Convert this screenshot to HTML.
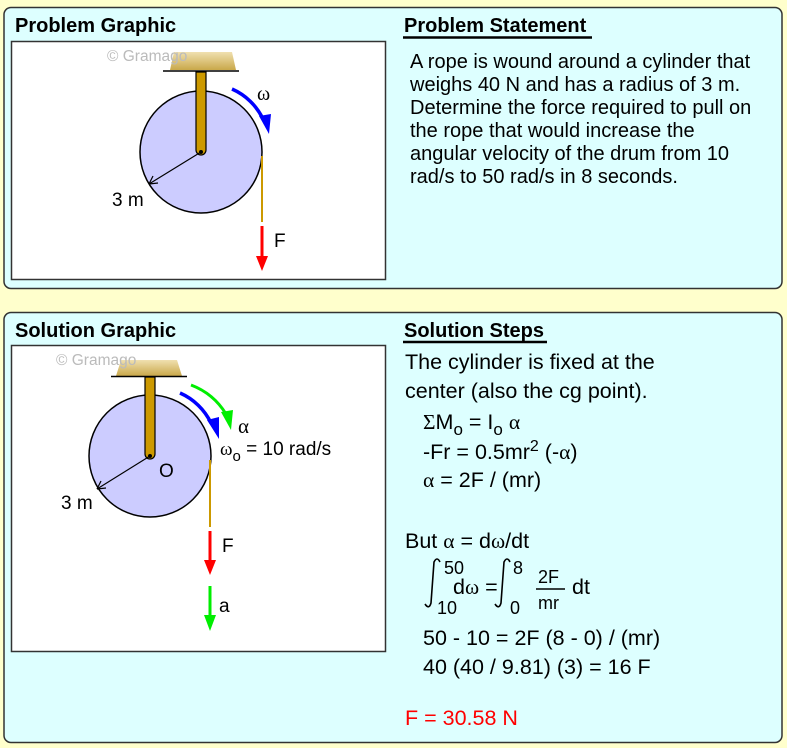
<!DOCTYPE html>
<html><head><meta charset="utf-8"><style>
html,body{margin:0;padding:0;background:#ffffcc;}
svg{display:block;font-family:"Liberation Sans",Arial,sans-serif;}
</style></head><body>
<svg width="787" height="748" viewBox="0 0 787 748" xmlns="http://www.w3.org/2000/svg">
<defs>
<linearGradient id="g" x1="0" y1="0" x2="0" y2="1"><stop offset="0" stop-color="#f0e0b0"/><stop offset="1" stop-color="#c9a84a"/></linearGradient>
</defs>
<rect x="0" y="0" width="787" height="748" fill="#ffffcc"/>
<rect x="4" y="7.5" width="778" height="281" rx="7" fill="#ddffff" stroke="#333" stroke-width="1.5"/>
<rect x="4" y="312.5" width="778" height="430" rx="7" fill="#ddffff" stroke="#333" stroke-width="1.5"/>
<rect x="11.5" y="41.5" width="374" height="238" fill="#fff" stroke="#333" stroke-width="1.5"/>
<rect x="11.5" y="345.5" width="374" height="306" fill="#fff" stroke="#333" stroke-width="1.5"/>
<g font-weight="bold" font-size="20" fill="#000">
<text x="15" y="32">Problem Graphic</text>
<text x="15" y="337">Solution Graphic</text>
<text x="404" y="32">Problem Statement</text>
<text x="404" y="337">Solution Steps</text>
</g>
<line x1="403" y1="37.5" x2="592" y2="37.5" stroke="#000" stroke-width="2.5"/>
<line x1="403" y1="342" x2="547" y2="342" stroke="#000" stroke-width="2.5"/>

<!-- top drawing -->
<polygon points="174,52 232,52 236,70 170,70" fill="url(#g)"/>
<text x="107" y="61" font-size="15.5" fill="#bbb">© Gramago</text>
<line x1="163" y1="71" x2="239" y2="71" stroke="#000" stroke-width="1.5"/>
<circle cx="201" cy="152" r="61" fill="#ccccff" stroke="#000" stroke-width="1.5"/>
<path d="M196,72 L196,150 A5,5 0 0 0 206,150 L206,72 Z" fill="#cc9900" stroke="#000" stroke-width="1.2"/>
<circle cx="201" cy="152" r="2" fill="#000"/>
<line x1="201" y1="152" x2="149" y2="184" stroke="#000" stroke-width="1.2"/>
<path d="M149,184 l9,-1 M149,184 l4,-8" stroke="#000" stroke-width="1.2"/>
<text x="112" y="206" font-size="19">3 m</text>
<line x1="262" y1="156" x2="262" y2="222" stroke="#cc9900" stroke-width="2"/>
<line x1="262" y1="226" x2="262" y2="258" stroke="#ff0000" stroke-width="3"/>
<polygon points="256,256 268,256 262,271" fill="#ff0000"/>
<text x="274" y="247" font-size="19">F</text>
<path d="M232,89 A62,62 0 0 1 263,119" fill="none" stroke="#0000ff" stroke-width="3.5"/>
<polygon points="259,116 271,114 269,134" fill="#0000ff"/>
<text x="257" y="100" font-size="20" font-family="Liberation Serif,serif">ω</text>

<!-- bottom drawing -->
<polygon points="121,360 177,360 182,376 116,376" fill="url(#g)"/>
<text x="56" y="365" font-size="15.5" fill="#bbb">© Gramago</text>
<line x1="111" y1="376.5" x2="187" y2="376.5" stroke="#000" stroke-width="1.5"/>
<circle cx="150" cy="456" r="61" fill="#ccccff" stroke="#000" stroke-width="1.5"/>
<path d="M145,377 L145,454 A5,5 0 0 0 155,454 L155,377 Z" fill="#cc9900" stroke="#000" stroke-width="1.2"/>
<circle cx="150" cy="456" r="2" fill="#000"/>
<line x1="150" y1="456" x2="97" y2="489" stroke="#000" stroke-width="1.2"/>
<path d="M97,489 l9,-1 M97,489 l4,-8" stroke="#000" stroke-width="1.2"/>
<text x="61" y="509" font-size="19">3 m</text>
<text x="159" y="477" font-size="19">O</text>
<line x1="210" y1="460" x2="210" y2="527" stroke="#cc9900" stroke-width="2"/>
<line x1="210" y1="531" x2="210" y2="562" stroke="#ff0000" stroke-width="3"/>
<polygon points="204,560 216,560 210,575" fill="#ff0000"/>
<text x="222" y="552" font-size="19">F</text>
<line x1="210" y1="586" x2="210" y2="617" stroke="#00ee00" stroke-width="3"/>
<polygon points="204,615 216,615 210,631" fill="#00ee00"/>
<text x="219" y="612" font-size="19">a</text>
<path d="M180,393 A62,62 0 0 1 211,423" fill="none" stroke="#0000ff" stroke-width="3.5"/>
<polygon points="207,420 219,417 219,439" fill="#0000ff"/>
<path d="M191,385 A70,70 0 0 1 226,414" fill="none" stroke="#00ee00" stroke-width="3"/>
<polygon points="221,412 233,410 231,430" fill="#00ee00"/>
<text x="238" y="433" font-size="21" font-family="Liberation Serif,serif">α</text>
<text x="220" y="455" font-size="19"><tspan font-family="Liberation Serif,serif">ω</tspan><tspan font-size="15" dy="6">o</tspan><tspan dy="-6"> = 10 rad/s</tspan></text>

<!-- problem statement -->
<g font-size="20" fill="#000">
<text x="410" y="68">A rope is wound around a cylinder that</text>
<text x="410" y="91">weighs 40 N and has a radius of 3 m.</text>
<text x="410" y="114">Determine the force required to pull on</text>
<text x="410" y="137">the rope that would increase the</text>
<text x="410" y="160">angular velocity of the drum from 10</text>
<text x="410" y="183">rad/s to 50 rad/s in 8 seconds.</text>
</g>

<!-- solution steps -->
<g font-size="21.5" fill="#000">
<text x="405" y="369">The cylinder is fixed at the</text>
<text x="405" y="398">center (also the cg point).</text>
<text x="423" y="429"><tspan font-family="Liberation Serif,serif">Σ</tspan>M<tspan font-size="17" dy="6">o</tspan><tspan dy="-6"> = I</tspan><tspan font-size="17" dy="6">o</tspan><tspan dy="-6"> </tspan><tspan font-family="Liberation Serif,serif">α</tspan></text>
<text x="423" y="459">-Fr = 0.5mr<tspan font-size="16" dy="-8">2</tspan><tspan dy="8"> (-</tspan><tspan font-family="Liberation Serif,serif">α</tspan>)</text>
<text x="423" y="487"><tspan font-family="Liberation Serif,serif">α</tspan> = 2F / (mr)</text>
<text x="405" y="548">But <tspan font-family="Liberation Serif,serif">α</tspan> = d<tspan font-family="Liberation Serif,serif">ω</tspan>/dt</text>
<text x="453" y="594">d<tspan font-family="Liberation Serif,serif">ω</tspan> =</text>
<text x="444" y="574" font-size="18">50</text>
<text x="437" y="614" font-size="18">10</text>
<text x="513" y="574" font-size="18">8</text>
<text x="510" y="614" font-size="18">0</text>
<text x="538" y="583" font-size="18">2F</text>
<text x="538" y="609" font-size="18">mr</text>
<text x="572" y="594">dt</text>
<text x="423" y="645">50 - 10 = 2F (8 - 0) / (mr)</text>
<text x="423" y="674">40 (40 / 9.81) (3) = 16 F</text>
<text x="405" y="725" fill="#ff0000">F = 30.58 N</text>
</g>
<path d="M440,562 Q437,556 434,562 L431,603 Q429,610 425,604" fill="none" stroke="#000" stroke-width="1.6"/>
<path d="M510,562 Q507,556 504,562 L501,603 Q499,610 495,604" fill="none" stroke="#000" stroke-width="1.6"/>
<line x1="536" y1="589" x2="565" y2="589" stroke="#000" stroke-width="1.4"/>
</svg>
</body></html>
